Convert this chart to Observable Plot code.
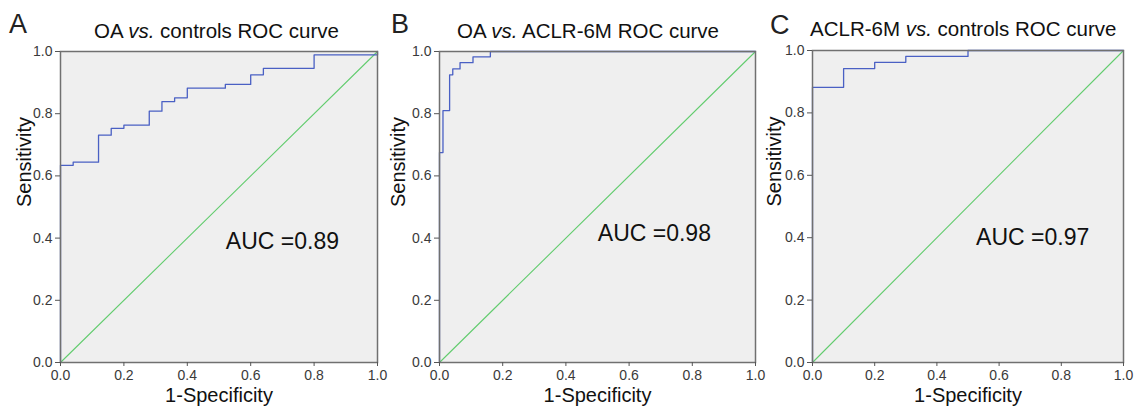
<!DOCTYPE html>
<html><head><meta charset="utf-8">
<script src="https://cdn.jsdelivr.net/npm/d3@7"></script>
<script src="https://cdn.jsdelivr.net/npm/@observablehq/plot@0.6"></script>
<style>
body{margin:0;background:#fff;font-family:"Liberation Sans",Arial,sans-serif;}
#wrap{position:relative;width:1134px;height:407px;overflow:hidden;background:#fff;}
.panel{position:absolute;top:0;}
.panel svg{display:block;overflow:visible;}
.letter{position:absolute;font-size:27px;line-height:27px;color:#222;white-space:nowrap;}
.title{position:absolute;font-size:20.5px;line-height:20px;color:#111;white-space:nowrap;}
</style></head><body><div id="wrap"></div>
<script>
// ---- data ----
const panelLetters = ["A", "B", "C"];
const titleFirst = ["OA", "OA", "ACLR-6M"];
const titleSecond = ["controls", "ACLR-6M", "controls"];
const aucValues = [0.89, 0.98, 0.97];

// ROC step points: 1-Specificity (fpr) and Sensitivity (tpr)
const fprA = [0, 0, 0.04, 0.12, 0.16, 0.20, 0.28, 0.32, 0.36, 0.40, 0.52, 0.60, 0.64, 0.80, 1];
const tprA = [0, 0.634, 0.644, 0.731, 0.753, 0.763, 0.808, 0.839, 0.851, 0.882, 0.894, 0.925, 0.946, 0.989, 1];
const fprB = [0, 0, 0.011, 0.032, 0.042, 0.065, 0.106, 0.161, 1];
const tprB = [0, 0.675, 0.810, 0.925, 0.944, 0.964, 0.983, 1, 1];
const fprC = [0, 0, 0.1, 0.2, 0.3, 0.5, 1];
const tprC = [0, 0.882, 0.942, 0.962, 0.981, 1, 1];

const tickValues = [0, 0.2, 0.4, 0.6, 0.8, 1.0];
const diagonal = [0, 1];
const xLabel = "1-Specificity";
const yLabel = "Sensitivity";

// ---- layout (not data) ----
const layout = [
  {left: 0,   width: 380, ml: 60, mr: 3,  mt: 51, mb: 45, ylab: 44, titleLeft: 94,  titleTop: 21, letterLeft: 9,   letterTop: 11, aucX: 0.70,  aucY: 0.39},
  {left: 380, width: 378, ml: 59, mr: 3,  mt: 51, mb: 45, ylab: 49, titleLeft: 457, titleTop: 21, letterLeft: 391, letterTop: 11, aucX: 0.68,  aucY: 0.415},
  {left: 758, width: 376, ml: 54, mr: 11, mt: 50, mb: 45, ylab: 46, titleLeft: 810, titleTop: 19, letterLeft: 770, letterTop: 12, aucX: 0.708, aucY: 0.40}
];
const series = [[fprA, tprA], [fprB, tprB], [fprC, tprC]];

const wrap = document.getElementById("wrap");
const font = "'Liberation Sans', Arial, sans-serif";

series.forEach(([fpr, tpr], i) => {
  const L = layout[i];
  const curve = fpr.map((x, j) => ({x, y: tpr[j]}));
  const plot = Plot.plot({
    width: L.width, height: 407,
    marginLeft: L.ml, marginRight: L.mr, marginTop: L.mt, marginBottom: L.mb,
    style: {fontFamily: font, fontSize: "14px", color: "#3a3a3a", background: "transparent", overflow: "visible"},
    x: {domain: [0, 1]},
    y: {domain: [0, 1]},
    marks: [
      Plot.frame({fill: "#efefef", stroke: null}),
      Plot.line(diagonal, {x: d => d, y: d => d, stroke: "#62cc6e", strokeWidth: 1.1}),
      Plot.line(curve, {x: "x", y: "y", curve: "step-after", stroke: "#4a60c4", strokeWidth: 1.3}),
      Plot.frame({stroke: "#707070", strokeWidth: 1.5}),
      Plot.axisX({ticks: tickValues, tickFormat: d3.format(".1f"), tickSize: 4, tickPadding: 4, label: null, fontSize: 14, stroke: "#555"}),
      Plot.axisY({ticks: tickValues, tickFormat: d3.format(".1f"), tickSize: 5, tickPadding: 3, label: null, fontSize: 14, stroke: "#555"}),
      Plot.text([xLabel], {frameAnchor: "bottom", dy: 33, lineAnchor: "middle", text: d => d, fontSize: 20, fill: "#111"}),
      Plot.text([yLabel], {frameAnchor: "left", dx: -L.ylab, rotate: -90, lineAnchor: "top", text: d => d, fontSize: 20, fill: "#111"}),
      Plot.text([aucValues[i]], {x: () => L.aucX, y: () => L.aucY, text: d => "AUC =" + d3.format(".2f")(d), fontSize: 23, fill: "#111", textAnchor: "middle"})
    ]
  });
  const div = document.createElement("div");
  div.className = "panel";
  div.style.left = L.left + "px";
  div.style.width = L.width + "px";
  div.appendChild(plot);
  wrap.appendChild(div);

  const letter = document.createElement("div");
  letter.className = "letter";
  letter.style.left = L.letterLeft + "px";
  letter.style.top = L.letterTop + "px";
  letter.textContent = panelLetters[i];
  wrap.appendChild(letter);

  const title = document.createElement("div");
  title.className = "title";
  title.style.left = L.titleLeft + "px";
  title.style.top = L.titleTop + "px";
  title.append(titleFirst[i] + " ");
  const it = document.createElement("i");
  it.textContent = "vs.";
  title.append(it);
  title.append(" " + titleSecond[i] + " ROC curve");
  wrap.appendChild(title);
});
</script>
</body></html>
